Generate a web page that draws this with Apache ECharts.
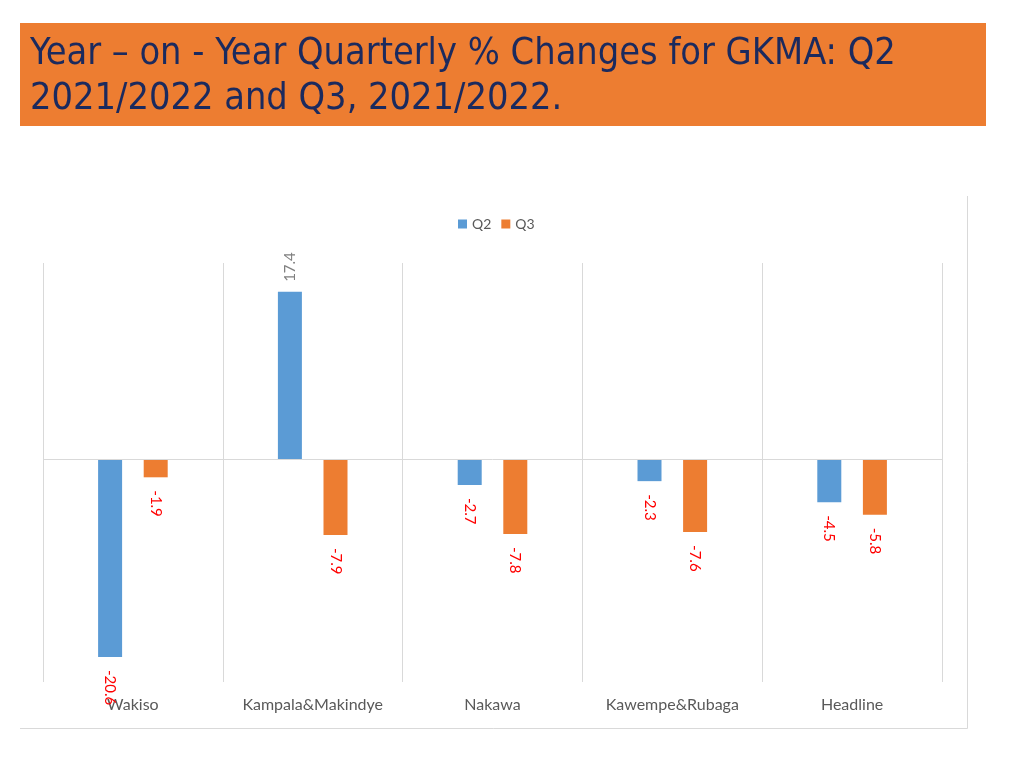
<!DOCTYPE html>
<html>
<head>
<meta charset="utf-8">
<script src="https://cdn.jsdelivr.net/npm/echarts@6/dist/echarts.min.js"></script>
<style>
html,body{margin:0;padding:0;background:#fff;}
#chart{width:1024px;height:768px;}
</style>
</head>
<body>
<div id="chart"></div>
<script>
const titleLines = ['Year – on - Year Quarterly % Changes for GKMA: Q2', '2021/2022 and Q3, 2021/2022.'];
const categories = ['Wakiso', 'Kampala&Makindye', 'Nakawa', 'Kawempe&Rubaga', 'Headline'];
const seriesNames = ['Q2', 'Q3'];
const q2 = [-20.6, 17.4, -2.7, -2.3, -4.5];
const q3 = [-1.9, -7.9, -7.8, -7.6, -5.8];

const colors = ['#5B9BD5', '#ED7D31'];

function withLabels(values) {
  return values.map(v => ({
    value: v,
    label: v >= 0 ? {
      show: true, position: 'top', distance: 10, rotate: 90,
      align: 'left', verticalAlign: 'middle', color: '#7F7F7F'
    } : {
      show: true, position: 'bottom', distance: 13, rotate: -90,
      align: 'left', verticalAlign: 'middle', color: '#FF0000'
    }
  }));
}

const chart = echarts.init(document.getElementById('chart'), null, {renderer: 'canvas'});
chart.setOption({
  animation: false,
  backgroundColor: '#ffffff',
  textStyle: {fontFamily: 'Lato, "Open Sans", sans-serif'},
  graphic: [
    {type: 'rect', shape: {x: 20, y: 23, width: 966, height: 103}, style: {fill: '#ED7D31'}, z: 0},
    {type: 'text', left: 30, top: 32, style: {
      text: titleLines.join('\n'), fill: '#1B2A5E',
      font: '37.6px "DejaVu Sans Condensed", sans-serif', lineHeight: 45
    }},
    {type: 'polyline', shape: {points: [[20, 728.5], [967.5, 728.5], [967.5, 196]]},
      style: {stroke: '#D9D9D9', lineWidth: 1, fill: null}}
  ],
  legend: {
    top: 212, left: 453,
    itemWidth: 9, itemHeight: 9, itemGap: 10,
    icon: 'rect',
    textStyle: {color: '#595959', fontSize: 14, fontFamily: 'Lato, sans-serif'},
    data: seriesNames
  },
  grid: {left: 43, right: 82, top: 263, bottom: 86, containLabel: false},
  xAxis: {
    type: 'category',
    data: categories,
    axisLine: {show: false},
    axisTick: {show: false},
    splitLine: {show: true, lineStyle: {color: '#D9D9D9', width: 1}},
    axisLabel: {color: '#595959', fontSize: 16, margin: 15, interval: 0}
  },
  yAxis: {
    type: 'value',
    min: -23.2, max: 20.4,
    show: false,
    splitLine: {show: false}
  },
  series: [
    {
      name: seriesNames[0], type: 'bar', data: withLabels(q2),
      itemStyle: {color: colors[0]}, barWidth: 24, barGap: '90%',
      label: {fontSize: 15, fontFamily: 'Lato, sans-serif'},
      markLine: {
        silent: true, symbol: 'none', label: {show: false},
        lineStyle: {color: '#D9D9D9', type: 'solid', width: 1},
        data: [{yAxis: 0}]
      },
      z: 3
    },
    {
      name: seriesNames[1], type: 'bar', data: withLabels(q3),
      itemStyle: {color: colors[1]}, barWidth: 24, barGap: '90%',
      label: {fontSize: 15, fontFamily: 'Lato, sans-serif'},
      z: 3
    }
  ]
});
</script>
</body>
</html>
